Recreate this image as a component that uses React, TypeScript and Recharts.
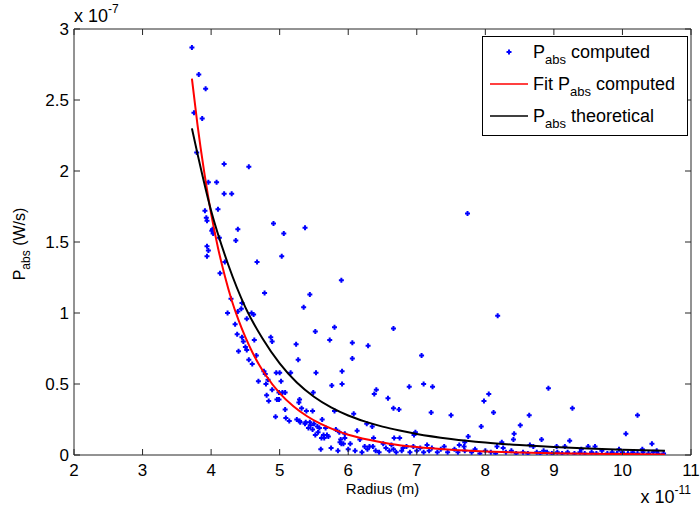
import { ScatterChart, Scatter, XAxis, YAxis } from "recharts";

const FONT = "'Liberation Sans', Arial, Helvetica, sans-serif";

const radiusTicks = [2, 3, 4, 5, 6, 7, 8, 9, 10, 11];
const powerTicks = [0, 0.5, 1, 1.5, 2, 2.5, 3];

// radius in 1e-11 m, power in 1e-7 W/s
const computedRadius = [
  3.72, 3.82, 3.92, 3.75, 3.87, 3.79, 4.19, 4.55, 3.96, 4.08, 4.19, 4.3, 3.91, 4.1, 3.93, 3.94,
  4.91, 5.37, 4.39, 4.02, 5.06, 4.01, 4.03, 4.12, 4.36, 3.94, 3.96, 3.94, 4.67, 5.03, 4.2, 4.13,
  5.9, 4.78, 5.44, 4.29, 4.45, 4.44, 5.35, 4.24, 4.59, 4.62, 4.39, 4.35, 4.52, 5.52, 5.8, 4.38,
  4.45, 4.47, 4.87, 4.89, 5.73, 5.24, 4.5, 4.63, 4.4, 4.52, 4.66, 5.27, 4.55, 4.6, 4.77, 4.79,
  4.95, 5.0, 5.16, 5.53, 5.91, 4.69, 5.02, 4.8, 4.83, 5.76, 5.91, 4.89, 4.99, 5.04, 5.08, 5.49,
  4.81, 4.84, 4.96, 4.99, 5.29, 5.28, 5.08, 5.32, 5.39, 5.48, 5.8, 4.94, 5.09, 5.14, 5.25, 5.29,
  5.62, 5.37, 5.42, 5.45, 5.5, 5.48, 5.55, 5.56, 5.58, 5.67, 5.69, 5.65, 5.52, 5.61, 5.82, 5.87,
  5.89, 5.95, 5.9, 5.95, 5.64, 5.71, 5.3, 5.38, 5.44,
  7.74, 8.18, 6.06, 6.06, 6.29, 6.66, 7.07, 6.38, 6.41, 6.58, 7.1, 7.23, 6.89, 6.66, 6.74, 7.21,
  7.5, 7.98, 8.05, 8.12, 6.08, 7.94, 8.51, 8.42, 8.41, 8.64, 6.13, 6.27, 6.35, 6.37, 6.98, 6.96,
  6.75, 6.67, 7.75, 5.88, 5.93, 6.03, 6.17, 6.24, 6.31, 6.36, 6.51, 6.55, 6.63, 6.66, 6.8, 6.85,
  6.95, 7.05, 7.15, 7.22, 7.4, 7.55, 7.62, 7.7, 7.7, 7.69,
  8.92, 9.27, 10.22, 10.05, 8.82, 9.23, 10.43, 10.29, 8.24, 8.17, 8.26, 8.65, 9.04, 8.7, 9.16, 9.5,
  9.6,
  5.6, 5.75, 5.85, 6.0, 6.1, 6.2, 6.28, 6.4, 6.45, 6.6, 6.7, 6.78, 6.9, 7.0, 7.1, 7.18, 7.3, 7.35,
  7.45, 7.6, 7.8, 7.85, 7.92, 8.0, 8.08, 8.15, 8.3, 8.38, 8.45, 8.55, 8.62, 8.75, 8.8, 8.9, 8.97,
  9.05, 9.12, 9.2, 9.3, 9.38, 9.45, 9.55, 9.62, 9.7, 9.78, 9.85, 9.92, 10.0, 10.08, 10.15, 10.22,
  10.3, 10.38, 10.45, 10.52, 10.6, 10.5, 9.95, 9.4, 8.85,
];

const computedPower = [
  2.87, 2.68, 2.58, 2.41, 2.37, 2.13, 2.05, 2.03, 1.92, 1.92, 1.84, 1.84, 1.72, 1.73, 1.67, 1.65,
  1.63, 1.6, 1.59, 1.59, 1.56, 1.58, 1.56, 1.53, 1.51, 1.47, 1.44, 1.4, 1.36, 1.4, 1.36, 1.28,
  1.23, 1.14, 1.13, 1.1, 1.07, 1.03, 1.04, 1.0, 1.0, 0.99, 1.01, 0.92, 0.96, 0.87, 0.9, 0.85,
  0.83, 0.8, 0.83, 0.8, 0.81, 0.78, 0.76, 0.81, 0.73, 0.74, 0.7, 0.67, 0.67, 0.64, 0.59, 0.57,
  0.58, 0.58, 0.58, 0.58, 0.59, 0.52, 0.52, 0.5, 0.53, 0.49, 0.5, 0.46, 0.44, 0.44, 0.44, 0.44,
  0.42, 0.38, 0.39, 0.39, 0.39, 0.37, 0.32, 0.33, 0.31, 0.31, 0.31, 0.27, 0.26, 0.24, 0.25, 0.24,
  0.25, 0.22, 0.19, 0.21, 0.22, 0.18, 0.2, 0.16, 0.19, 0.19, 0.14, 0.12, 0.14, 0.12, 0.18, 0.16,
  0.11, 0.12, 0.08, 0.15, 0.14, 0.13, 0.23, 0.23, 0.23,
  1.7, 0.98, 0.79, 0.68, 0.77, 0.89, 0.7, 0.43, 0.46, 0.4, 0.5, 0.48, 0.48, 0.33, 0.32, 0.3,
  0.28, 0.38, 0.43, 0.3, 0.29, 0.2, 0.21, 0.15, 0.11, 0.28, 0.17, 0.22, 0.2, 0.12, 0.16, 0.14,
  0.12, 0.12, 0.13, 0.09, 0.08, 0.08, 0.11, 0.06, 0.06, 0.06, 0.08, 0.05, 0.07, 0.04, 0.05, 0.06,
  0.06, 0.05, 0.07, 0.05, 0.06, 0.04, 0.07, 0.03, 0.09, 0.06,
  0.47, 0.33, 0.28, 0.15, 0.11, 0.1, 0.08, 0.04, 0.09, 0.06, 0.05, 0.07, 0.06, 0.06, 0.06, 0.06,
  0.06,
  0.04, 0.05, 0.03, 0.04, 0.03, 0.02, 0.04, 0.03, 0.02, 0.03, 0.02, 0.03, 0.02, 0.03, 0.02, 0.03,
  0.02, 0.04, 0.02, 0.02, 0.02, 0.04, 0.01, 0.03, 0.02, 0.01, 0.02, 0.03, 0.01, 0.02, 0.01, 0.02,
  0.01, 0.02, 0.01, 0.02, 0.01, 0.02, 0.01, 0.02, 0.01, 0.02, 0.01, 0.03, 0.01, 0.02, 0.01, 0.02,
  0.01, 0.02, 0.01, 0.02, 0.01, 0.02, 0.01, 0.01, 0.03, 0.04, 0.04, 0.03,
];

const fitRadius = [
  3.72, 3.8, 3.9, 4.0, 4.1, 4.2, 4.3, 4.4, 4.5, 4.6, 4.7, 4.8, 5.0, 5.2, 5.4, 5.6, 5.8, 6.0, 6.3,
  6.6, 7.0, 7.5, 8.0, 8.5, 9.0, 9.5, 10.0, 10.62,
];
const fitPower = [
  2.65, 2.33, 1.99, 1.7, 1.46, 1.26, 1.09, 0.95, 0.83, 0.725, 0.636, 0.56, 0.436, 0.343, 0.273,
  0.219, 0.177, 0.143, 0.107, 0.08, 0.056, 0.037, 0.025, 0.017, 0.012, 0.0087, 0.0064, 0.0044,
];

const theoryRadius = [
  3.72, 4.0, 4.25, 4.5, 4.75, 5.0, 5.25, 5.5, 5.75, 6.0, 6.25, 6.5, 6.75, 7.0, 7.5, 8.0, 8.5, 9.0,
  9.5, 10.0, 10.62,
];
const theoryPower = [
  2.3, 1.72, 1.34, 1.04, 0.82, 0.645, 0.51, 0.41, 0.335, 0.278, 0.235, 0.2, 0.172, 0.148, 0.113,
  0.088, 0.07, 0.056, 0.0455, 0.0376, 0.03,
];

const computed = computedRadius.map((r, i) => ({ r, p: computedPower[i] }));
const fit = fitRadius.map((r, i) => ({ r, p: fitPower[i] }));
const theory = theoryRadius.map((r, i) => ({ r, p: theoryPower[i] }));

const AXIS_COLOR = "#262626";
const TICK_FONT = 17;

function Dot(props: any) {
  const { cx, cy } = props;
  if (cx == null || cy == null) return <g />;
  return (
    <path
      d={`M${cx - 1} ${cy - 2.5}h2v1.5h1.5v2h-1.5v1.5h-2v-1.5h-1.5v-2h1.5z`}
      fill="#0000ff"
    />
  );
}

const NoShape = () => <g />;

function BottomTick({ x, y, payload }: any) {
  return (
    <g>
      <line x1={x} y1={y} x2={x} y2={y - 6} stroke={AXIS_COLOR} />
      <text x={x} y={y + 21} textAnchor="middle" fontSize={TICK_FONT} fontFamily={FONT} fill="#000">
        {payload.value}
      </text>
    </g>
  );
}

function LeftTick({ x, y, payload }: any) {
  return (
    <g>
      <line x1={x} y1={y} x2={x + 6} y2={y} stroke={AXIS_COLOR} />
      <text x={x - 5} y={y + 6} textAnchor="end" fontSize={TICK_FONT} fontFamily={FONT} fill="#000">
        {payload.value}
      </text>
    </g>
  );
}

function TopTick({ x, y }: any) {
  return <line x1={x} y1={y} x2={x} y2={y + 6} stroke={AXIS_COLOR} />;
}

function RightTick({ x, y }: any) {
  return <line x1={x} y1={y} x2={x - 6} y2={y} stroke={AXIS_COLOR} />;
}

function YLabel(props: any) {
  const vb = props.viewBox || { x: 0, y: 29, width: 74, height: 426 };
  const cy = vb.y + vb.height / 2;
  return (
    <g fontFamily={FONT} fill="#000">
      <text transform={`translate(25, ${cy + 2}) rotate(-90)`} textAnchor="middle" fontSize={16}>
        P
        <tspan fontSize={12} dy={5}>abs</tspan>
        <tspan dy={-5}> (W/s)</tspan>
      </text>
      <text x={vb.x + vb.width} y={vb.y - 7} fontSize={18}>
        x 10
        <tspan fontSize={12} dy={-9}>-7</tspan>
      </text>
    </g>
  );
}

function XLabel(props: any) {
  const vb = props.viewBox || { x: 74, y: 455, width: 617, height: 55 };
  return (
    <g fontFamily={FONT} fill="#000">
      <text x={vb.x + vb.width / 2} y={vb.y + 39} textAnchor="middle" fontSize={15}>
        Radius (m)
      </text>
      <text x={vb.x + vb.width} y={vb.y + 48} textAnchor="end" fontSize={18}>
        x 10
        <tspan fontSize={12} dy={-9}>-11</tspan>
      </text>
    </g>
  );
}

function LegendBox() {
  return (
    <svg width={207} height={101} style={{ display: "block" }}>
      <rect x={0.5} y={0.5} width={205} height={99} fill="#fff" stroke="#000" />
      <g fontFamily={FONT} fill="#000">
        <Dot cx={27} cy={16} />
        <text x={51} y={22} fontSize={18}>
          P<tspan fontSize={13} dy={6}>abs</tspan>
          <tspan dy={-6}> computed</tspan>
        </text>
        <line x1={8} y1={48} x2={46} y2={48} stroke="#ff0000" strokeWidth={1.5} />
        <text x={51} y={54} fontSize={18}>
          Fit P<tspan fontSize={13} dy={6}>abs</tspan>
          <tspan dy={-6}> computed</tspan>
        </text>
        <line x1={8} y1={80} x2={46} y2={80} stroke="#000" strokeWidth={1.5} />
        <text x={51} y={86} fontSize={18}>
          P<tspan fontSize={13} dy={6}>abs</tspan>
          <tspan dy={-6}> theoretical</tspan>
        </text>
      </g>
    </svg>
  );
}

export default function App() {
  return (
    <div style={{ position: "absolute", left: 0, top: 0, width: 700, height: 510, background: "#fff" }}>
      <ScatterChart width={700} height={510} margin={{ top: 28, right: 8, left: 0, bottom: 0 }}>
        <XAxis
          dataKey="r"
          type="number"
          domain={[2, 11]}
          ticks={radiusTicks}
          allowDataOverflow
          height={55}
          tickSize={0}
          tickMargin={0}
          tickLine={false}
          axisLine={{ stroke: AXIS_COLOR }}
          tick={<BottomTick />}
          interval={0}
          label={{ content: XLabel }}
        />
        <XAxis
          xAxisId="top"
          dataKey="r"
          orientation="top"
          type="number"
          domain={[2, 11]}
          ticks={radiusTicks}
          allowDataOverflow
          height={1}
          tickSize={0}
          tickMargin={0}
          tickLine={false}
          axisLine={{ stroke: AXIS_COLOR }}
          tick={<TopTick />}
          interval={0}
        />
        <YAxis
          dataKey="p"
          type="number"
          domain={[0, 3]}
          ticks={powerTicks}
          allowDataOverflow
          width={74}
          tickSize={0}
          tickMargin={0}
          tickLine={false}
          axisLine={{ stroke: AXIS_COLOR }}
          tick={<LeftTick />}
          interval={0}
          label={{ content: YLabel }}
        />
        <YAxis
          yAxisId="right"
          dataKey="p"
          orientation="right"
          type="number"
          domain={[0, 3]}
          ticks={powerTicks}
          allowDataOverflow
          width={1}
          tickSize={0}
          tickMargin={0}
          tickLine={false}
          axisLine={{ stroke: AXIS_COLOR }}
          tick={<RightTick />}
          interval={0}
        />
        <Scatter
          name="P_abs computed"
          data={computed}
          shape={<Dot />}
          isAnimationActive={false}
        />
        <Scatter
          name="Fit P_abs computed"
          data={fit}
          shape={NoShape}
          line={{ stroke: "#ff0000", strokeWidth: 2 }}
          lineJointType="monotoneX"
          isAnimationActive={false}
        />
        <Scatter
          name="P_abs theoretical"
          data={theory}
          xAxisId="top"
          yAxisId="right"
          shape={NoShape}
          line={{ stroke: "#000000", strokeWidth: 2 }}
          lineJointType="monotoneX"
          isAnimationActive={false}
        />
      </ScatterChart>
      <div style={{ position: "absolute", left: 482, top: 36 }}>
        <LegendBox />
      </div>
    </div>
  );
}
